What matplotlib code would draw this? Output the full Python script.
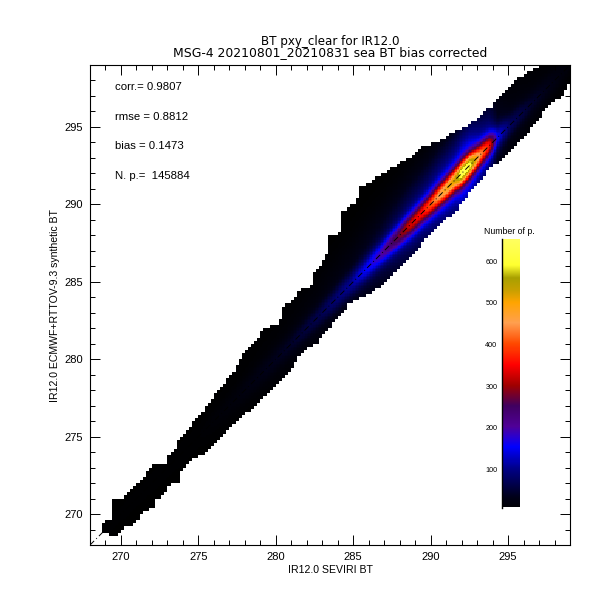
import numpy as np
import matplotlib
matplotlib.use("Agg")
import matplotlib.pyplot as plt
from matplotlib.colors import LinearSegmentedColormap
from matplotlib.ticker import MultipleLocator

plt.rcParams['font.family'] = ['Liberation Sans', 'DejaVu Sans']

title_lines = ["BT pxy_clear for IR12.0", "MSG-4 20210801_20210831 sea BT bias corrected"]
xlabel = "IR12.0 SEVIRI BT"
ylabel = "IR12.0 ECMWF+RTTOV-9.3 synthetic BT"
stats = ["corr.= 0.9807", "rmse = 0.8812", "bias = 0.1473", "N. p.=  145884"]
x_ticks = [270, 275, 280, 285, 290, 295]
y_ticks = [270, 275, 280, 285, 290, 295]
cbar_ticks = [100, 200, 300, 400, 500, 600]

upper_x = [268.65, 268.97, 269.42, 269.49, 270.26, 270.58, 271.55, 272.0, 272.97, 273.04, 273.68, 273.70,
           275.11, 276.07, 277.37, 277.88, 278.85, 279.11, 280.27, 280.40, 281.37, 281.44, 282.41, 282.43,
           282.99, 283.31, 283.33, 284.28, 284.30, 285.25, 285.44, 285.89, 286.54, 287.19, 287.38, 288.87,
           289.51, 290.80, 291.26, 292.10, 292.87, 293.84, 294.68, 295.33, 296.23, 297.07, 299.0]
upper_y = [268.97, 269.42, 269.74, 271.04, 271.04, 271.55, 272.52, 273.17, 273.30, 273.81, 274.27, 274.78,
           276.40, 277.69, 279.30, 280.40, 281.24, 281.89, 282.34, 283.37, 283.96, 284.47, 284.80, 285.57,
           286.09, 286.86, 287.90, 288.22, 289.51, 290.16, 291.19, 291.32, 291.77, 292.10, 292.25, 293.19,
           293.71, 294.16, 294.49, 294.94, 295.45, 296.23, 297.20, 297.84, 298.49, 299.0, 299.0]
lower_x = [268.65, 269.61, 270.26, 270.78, 271.42, 272.07, 272.33, 272.65, 272.97, 273.17, 273.81, 273.83,
           274.65, 275.56, 276.20, 278.34, 279.63, 281.05, 281.70, 282.66, 283.50, 284.80, 285.89, 287.06,
           288.03, 289.32, 289.51, 291.71, 292.55, 293.97, 294.68, 296.23, 297.26, 298.68, 299.0]
lower_y = [268.97, 268.52, 269.10, 269.16, 270.20, 270.39, 271.04, 271.04, 271.55, 271.88, 272.07, 272.65,
           273.49, 274.01, 274.78, 276.72, 278.01, 279.30, 280.47, 281.05, 282.08, 283.63, 284.15, 284.92,
           285.89, 287.25, 287.70, 289.64, 290.80, 292.42, 293.00, 294.61, 295.90, 297.26, 298.04]
ridge_x = [268.65, 275.1, 277.4, 280.9, 282.9, 284.8, 286.7, 288.0, 288.7, 289.5, 290.6, 291.6, 292.0,
           292.5, 293.1, 293.8, 294.3, 295.1, 296.4, 298.4, 299.0]
ridge_count = [3, 5, 15, 40, 65, 105, 190, 280, 330, 360, 460, 530, 640, 620, 460, 360, 150, 75, 45, 18, 12]
ridge_sigma = 0.52

cmap_values = [0, 30, 100, 150, 175, 200, 250, 300, 350, 400, 450, 500, 530, 560, 590, 653]
cmap_colors = ["#000000", "#000018", "#000088", "#0000ff", "#2a00d0", "#500098", "#400060", "#a00000",
               "#ff0000", "#ff4a00", "#ffa050", "#ffa500", "#c8a000", "#a8a000", "#ffff30", "#ffff60"]
cmap = LinearSegmentedColormap.from_list(
    "numpts", [(v / cmap_values[-1], c) for v, c in zip(cmap_values, cmap_colors)], N=256)
cmap.set_bad("white")

edges = np.arange(268.0, 299.01, 0.1)
centers = (edges[:-1] + edges[1:]) / 2
X, Y = np.meshgrid(centers, centers)
# The outline of the cloud is blocky (0.2-wide bins) while its interior is smooth.
Xb = np.floor((X - 268.0) / 0.2) * 0.2 + 268.1
Yb = np.floor((Y - 268.0) / 0.2) * 0.2 + 268.1
top = np.interp(Xb, upper_x, upper_y)
bot = np.interp(Xb, lower_x, lower_y)
peak = np.interp(X, ridge_x, ridge_count)
offset = (Y - X) / ridge_sigma
field = peak * (0.70 * np.exp(-0.5 * offset ** 2) + 0.30 * np.exp(-0.5 * (offset / 3.5) ** 2))
field = np.ma.masked_where((Yb > top) | (Yb < bot) | (Xb < upper_x[0]), field)

fig = plt.figure(figsize=(6, 6), dpi=100, facecolor="white")
ax = fig.add_axes([90 / 600, 55 / 600, 480 / 600, 480 / 600])
ax.pcolormesh(edges, edges, field, cmap=cmap, vmin=cmap_values[0], vmax=cmap_values[-1],
              shading="flat", rasterized=True)
ax.plot([268, 299], [268, 299], color="black", lw=0.7, ls=(0, (6, 3, 1, 3)))
ax.set_xlim(268, 299)
ax.set_ylim(268, 299)
ax.set_xticks(x_ticks)
ax.set_yticks(y_ticks)
ax.xaxis.set_minor_locator(MultipleLocator(1))
ax.yaxis.set_minor_locator(MultipleLocator(1))
ax.tick_params(which="major", direction="in", length=7.2, width=0.7, top=True, right=True,
               labelsize=8, pad=5)
ax.tick_params(which="minor", direction="in", length=3.6, width=0.7, top=True, right=True)
for s in ax.spines.values():
    s.set_linewidth(0.8)


def put(px, py, s, **kw):
    fig.text(px / 600, 1 - py / 600, s, va="center", **kw)


put(330, 41, title_lines[0], ha="center", fontsize=8.6, family="DejaVu Sans")
put(330, 53, title_lines[1], ha="center", fontsize=8.9, family="DejaVu Sans")
put(330, 570, xlabel, ha="center", fontsize=7.6)
put(55, 305, ylabel, ha="center", rotation=90, fontsize=7.6)
for s, py in zip(stats, [87, 117, 146, 176]):
    put(115, py, s, ha="left", fontsize=8.2)

cax = fig.add_axes([501.5 / 600, (600 - 507.5) / 600, 17.5 / 600, 268.5 / 600])
grad = np.linspace(8.7, 653, 256).reshape(-1, 1)
cax.imshow(grad, origin="lower", aspect="auto", cmap=cmap, vmin=cmap_values[0], vmax=cmap_values[-1],
           extent=[0, 1, 8.7, 653])
cax.set_xticks([])
cax.set_yticks(cbar_ticks)
cax.tick_params(axis="y", length=0, labelsize=5.2, pad=3)
for k in ["top", "right", "bottom"]:
    cax.spines[k].set_visible(False)
cax.spines["left"].set_linewidth(1.0)
put(509, 232, "Number of p.", ha="center", fontsize=6.3)

fig.savefig("out.png", dpi=100)
